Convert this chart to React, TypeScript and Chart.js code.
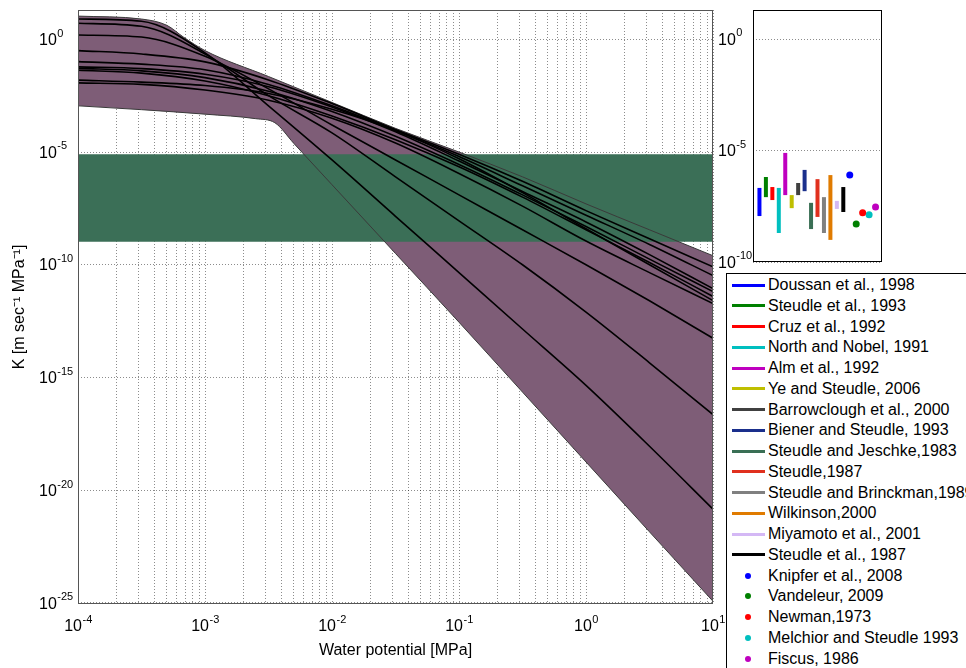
import React, { useEffect, useRef } from 'react';
import { Chart, registerables } from 'chart.js';
Chart.register(...registerables);

const FONT = '"Liberation Sans", Arial, Helvetica, sans-serif';
Chart.defaults.font.family = FONT;

const LOG_PSI = [-4, -3.5, -3, -2.5, -2, -1.5, -1, -0.5, 0, 0.5, 1];

const CURVE_1 = [0.9, 0.8, -0.6, -2.95, -5.35, -7.85, -10.35, -12.85, -15.35, -18.05, -20.84];
const CURVE_2 = [0.71, 0.58, -0.65, -2.5, -4.15, -6.1, -8.05, -10.0, -12.1, -14.35, -16.65];
const CURVE_3 = [0.19, 0.1, -0.75, -2.2, -3.8, -5.35, -6.9, -8.45, -10.0, -11.6, -13.26];
const CURVE_4 = [-0.5, -0.65, -1.0, -1.8, -2.85, -4.0, -5.1, -6.3, -7.6, -8.85, -10.09];
const CURVE_5 = [-0.99, -1.1, -1.35, -2.0, -2.95, -4.05, -5.2, -6.5, -7.8, -9.1, -10.48];
const CURVE_6 = [-1.22, -1.3, -1.55, -2.1, -3.0, -4.1, -5.4, -6.75, -8.1, -9.55, -11.06];
const CURVE_7 = [-1.29, -1.4, -1.7, -2.3, -3.2, -4.3, -5.55, -6.9, -8.3, -9.75, -11.19];
const CURVE_8 = [-1.37, -1.5, -1.85, -2.5, -3.4, -4.45, -5.65, -7.0, -8.45, -9.9, -11.41];
const CURVE_9 = [-1.81, -1.9, -2.05, -2.4, -3.1, -4.05, -5.3, -6.8, -8.4, -10.0, -11.59];
const CURVE_10 = [-1.93, -2.0, -2.25, -2.7, -3.5, -4.6, -5.95, -7.4, -8.95, -10.35, -11.72];
const CURVES = [CURVE_1, CURVE_2, CURVE_3, CURVE_4, CURVE_5, CURVE_6, CURVE_7, CURVE_8, CURVE_9, CURVE_10];

const ENV_UPPER_LOG_PSI = [-4, -3.5, -3.3, -3.17, -3.0, -2.5, -2, -1.5, -1, -0.5, 0, 0.5, 1];
const ENV_UPPER_LOG_K = [1.03, 0.9, 0.62, 0.1, -0.5, -1.65, -2.8, -3.95, -5.0, -6.1, -7.3, -8.45, -9.6];
const ENV_LOWER_LOG_PSI = [-4, -3.5, -3, -2.6, -2.45, -2.3, -2, -1.5, -1, -0.5, 0, 0.5, 1];
const ENV_LOWER_LOG_K = [-2.95, -3.12, -3.32, -3.52, -3.7, -4.62, -6.45, -9.5, -12.55, -15.65, -18.75, -21.85, -24.93];

const BAND_TOP = 8e-6;
const BAND_BOTTOM = 1.05e-9;
const PSI_MIN = 1e-4;
const PSI_MAX = 10;

const MAIN_X_MAJOR = [1e-4, 1e-3, 1e-2, 1e-1, 1, 10];
const MAIN_Y_TICKS = [1e-25, 1e-20, 1e-15, 1e-10, 1e-5, 1];
const SIDE_Y_TICKS = [1e-10, 1e-5, 1];

// ---------- Side panel (measured ranges and single values) ----------
const RANGE_LABELS = [
  'Doussan et al., 1998', 'Steudle et al., 1993', 'Cruz et al., 1992', 'North and Nobel, 1991',
  'Alm et al., 1992', 'Ye and Steudle, 2006', 'Barrowclough et al., 2000', 'Biener and Steudle, 1993',
  'Steudle and Jeschke,1983', 'Steudle,1987', 'Steudle and Brinckman,1989', 'Wilkinson,2000',
  'Miyamoto et al., 2001', 'Steudle et al., 1987',
];
const RANGE_HIGH = [2.1e-7, 6.5e-7, 2.3e-7, 2.1e-7, 7.8e-6, 1.0e-7, 3.5e-7, 1.35e-6, 4.5e-8, 5.2e-7, 8.1e-8, 7.9e-7, 5.5e-8, 2.3e-7];
const RANGE_LOW = [1.15e-8, 8.1e-8, 6.0e-8, 2.0e-9, 1.0e-7, 2.6e-8, 1.0e-7, 1.5e-7, 3.0e-9, 1.05e-8, 2.0e-9, 9.8e-10, 2.4e-8, 1.75e-8];
const RANGE_COLORS = ['#0000ff', '#008000', '#ff0000', '#00bfbf', '#bf00bf', '#bfbf00', '#404040', '#1a2f8c', '#3a6f55', '#e0301e', '#808080', '#e07b00', '#d4b8f5', '#000000'];

const POINT_LABELS = ['Knipfer et al., 2008', 'Vandeleur, 2009', 'Newman,1973', 'Melchior and Steudle 1993', 'Fiscus, 1986'];
const POINT_VALUES = [7.9e-7, 5.0e-9, 1.6e-8, 1.3e-8, 2.95e-8];
const POINT_COLORS = ['#0000ff', '#008000', '#ff0000', '#00bfbf', '#bf00bf'];

const PURPLE = '#7e5d77';
const GREEN = '#3b6f57';
const GRID = 'rgba(0,0,0,0.45)';

const exponentOf = (v: number) => String(Math.round(Math.log10(v)));

const xGrid = () => {
  const out: number[] = [];
  MAIN_X_MAJOR.forEach((m, i) => {
    out.push(m);
    if (i < MAIN_X_MAJOR.length - 1) for (let k = 2; k <= 9; k++) out.push(m * k);
  });
  return out;
};

const pts = (lx: number[], lk: number[]) => lx.map((v, i) => ({ x: 10 ** v, y: 10 ** lk[i] }));

const framePlugin = (color: string) => ({
  id: 'frame',
  afterDraw(chart: any) {
    const { ctx, chartArea: a } = chart;
    ctx.save();
    ctx.strokeStyle = color;
    ctx.lineWidth = 1;
    const l = Math.round(a.left) + 0.5, t = Math.round(a.top) + 0.5;
    const r = Math.round(a.right) - 0.5, b = Math.round(a.bottom) - 0.5;
    ctx.strokeRect(l, t, r - l, b - t);
    ctx.restore();
  },
});

const BASE_SIZE = 16;
const EXP_SIZE = 11;

// Draws "10" with a raised exponent, MATLAB style, at the scale's tick positions
const powerLabelPlugin = (specs: { scaleId: string; values: number[]; mode: 'x' | 'y'; anchor: number }[]) => ({
  id: 'powerLabels',
  afterDraw(chart: any) {
    const ctx = chart.ctx;
    ctx.save();
    ctx.fillStyle = '#000';
    ctx.textBaseline = 'alphabetic';
    ctx.textAlign = 'left';
    for (const spec of specs) {
      const scale = chart.scales[spec.scaleId];
      for (const v of spec.values) {
        const p = scale.getPixelForValue(v);
        const exp = exponentOf(v);
        ctx.font = `${BASE_SIZE}px ${FONT}`;
        const w1 = ctx.measureText('10').width;
        ctx.font = `${EXP_SIZE}px ${FONT}`;
        const w2 = ctx.measureText(exp).width;
        let x0: number, base: number;
        if (spec.mode === 'x') {
          x0 = p - (w1 + w2) / 2;
          base = spec.anchor;
        } else {
          x0 = spec.anchor;
          base = p + 5.7;
        }
        ctx.font = `${BASE_SIZE}px ${FONT}`;
        ctx.fillText('10', x0, base);
        ctx.font = `${EXP_SIZE}px ${FONT}`;
        ctx.fillText(exp, x0 + w1 + 0.5, base - 8.3);
      }
    }
    ctx.restore();
  },
});

const tickFont = { size: 16, family: FONT };

export default function App() {
  const mainRef = useRef<HTMLCanvasElement>(null);
  const sideRef = useRef<HTMLCanvasElement>(null);

  useEffect(() => {
    const upper = pts(ENV_UPPER_LOG_PSI, ENV_UPPER_LOG_K);
    const lower = pts(ENV_LOWER_LOG_PSI, ENV_LOWER_LOG_K);
    const none = 'rgba(0,0,0,0)';
    const base = { pointRadius: 0, cubicInterpolationMode: 'monotone' as const };

    const main = new Chart(mainRef.current!, {
      type: 'line',
      data: {
        datasets: [
          { ...base, label: 'envelope', data: upper, fill: '+1', backgroundColor: PURPLE, borderColor: none, borderWidth: 0, order: 3 },
          { ...base, label: 'envelope-low', data: lower, fill: false, borderColor: none, borderWidth: 0, order: 3 },
          { pointRadius: 0, label: 'measured range', data: [{ x: PSI_MIN, y: BAND_TOP }, { x: PSI_MAX, y: BAND_TOP }], fill: '+1', backgroundColor: GREEN, borderColor: none, borderWidth: 0, order: 2 },
          { pointRadius: 0, label: 'measured range low', data: [{ x: PSI_MIN, y: BAND_BOTTOM }, { x: PSI_MAX, y: BAND_BOTTOM }], fill: false, borderColor: none, borderWidth: 0, order: 2 },
          { ...base, label: 'envelope edge', data: upper, fill: false, borderColor: '#3a3a3a', borderWidth: 1, order: 1 },
          { ...base, label: 'envelope edge low', data: lower, fill: false, borderColor: '#3a3a3a', borderWidth: 1, order: 1 },
          ...CURVES.map((c, i) => ({ ...base, label: 'curve ' + (i + 1), data: pts(LOG_PSI, c), fill: false, borderColor: '#000', borderWidth: 1.6, order: 0 })),
        ] as any,
      },
      options: {
        responsive: false,
        animation: false,
        devicePixelRatio: 1,
        events: [],
        layout: { autoPadding: false, padding: { left: 0, right: 17, top: 10, bottom: 0 } },
        plugins: { legend: { display: false }, tooltip: { enabled: false } },
        scales: {
          x: {
            type: 'logarithmic', min: PSI_MIN, max: PSI_MAX,
            afterBuildTicks: (s: any) => { s.ticks = xGrid().map((v) => ({ value: v })); },
            afterFit: (s: any) => { s.height = 64; },
            grid: { color: GRID, lineWidth: 1, drawTicks: false },
            border: { display: false, dash: [1, 2] },
            ticks: { display: false, autoSkip: false },
            title: { display: true, text: 'Water potential [MPa]', color: '#000', font: tickFont, padding: { top: 0, bottom: 8 } },
          },
          y: {
            type: 'logarithmic', min: 10 ** -25.05, max: 20, position: 'left', weight: 0,
            afterBuildTicks: (s: any) => { s.ticks = MAIN_Y_TICKS.map((v) => ({ value: v })); },
            afterFit: (s: any) => { s.width = 39; },
            grid: { color: GRID, lineWidth: 1, drawTicks: false },
            border: { display: false, dash: [1, 2] },
            ticks: { display: false, autoSkip: false },
          },
          yTitle: {
            axis: 'y', type: 'linear', position: 'left', weight: 1,
            afterFit: (s: any) => { s.width = 39; },
            grid: { display: false }, border: { display: false }, ticks: { display: false },
            title: { display: true, text: 'K [m sec⁻¹ MPa⁻¹]', color: '#000', font: tickFont, padding: { top: 10, bottom: 0 } },
          },
        } as any,
      },
      plugins: [
        framePlugin('#555'),
        powerLabelPlugin([
          { scaleId: 'x', values: MAIN_X_MAJOR, mode: 'x', anchor: 631 },
          { scaleId: 'y', values: MAIN_Y_TICKS, mode: 'y', anchor: 39 },
        ]),
      ],
    });

    const side = new Chart(sideRef.current!, {
      type: 'scatter',
      data: {
        datasets: [
          ...RANGE_LABELS.map((label, i) => ({
            label, data: [{ x: i + 1, y: RANGE_LOW[i] }, { x: i + 1, y: RANGE_HIGH[i] }],
            showLine: true, borderColor: RANGE_COLORS[i], borderWidth: 4, borderCapStyle: 'butt', pointRadius: 0,
          })),
          ...POINT_LABELS.map((label, i) => ({
            label, data: [{ x: RANGE_LABELS.length + i + 1, y: POINT_VALUES[i] }],
            showLine: false, pointRadius: 3.5, backgroundColor: POINT_COLORS[i], borderColor: POINT_COLORS[i], borderWidth: 0,
          })),
        ] as any,
      },
      options: {
        responsive: false,
        animation: false,
        devicePixelRatio: 1,
        events: [],
        layout: { autoPadding: false, padding: { left: 5, right: 6, top: 10, bottom: 18 } },
        plugins: { legend: { display: false }, tooltip: { enabled: false } },
        scales: {
          x: { type: 'linear', min: 0, max: RANGE_LABELS.length + POINT_LABELS.length + 1, display: false },
          y: {
            type: 'logarithmic', min: 1e-10, max: 20,
            afterBuildTicks: (s: any) => { s.ticks = SIDE_Y_TICKS.map((v) => ({ value: v })); },
            afterFit: (s: any) => { s.width = 35; },
            grid: { color: GRID, lineWidth: 1, drawTicks: false },
            border: { display: false, dash: [1, 2] },
            ticks: { display: false, autoSkip: false },
          },
        } as any,
      },
      plugins: [
        framePlugin('#000'),
        powerLabelPlugin([{ scaleId: 'y', values: SIDE_Y_TICKS, mode: 'y', anchor: 5 }]),
      ],
    });

    return () => { main.destroy(); side.destroy(); };
  }, []);

  const rowY = (i: number) => 11 + i * 20.75;

  return (
    <div style={{ position: 'absolute', left: 0, top: 0, width: 966, height: 668, overflow: 'hidden', background: '#fff', fontFamily: FONT }}>
      <canvas ref={mainRef} width={730} height={668} style={{ position: 'absolute', left: 0, top: 0 }} />
      <canvas ref={sideRef} width={175} height={280} style={{ position: 'absolute', left: 713, top: 0 }} />
      <div style={{ position: 'absolute', left: 726, top: 273, width: 260, height: 420, border: '1px solid #000', background: '#fff', boxSizing: 'border-box' }}>
        {RANGE_LABELS.map((label, i) => (
          <div key={label}>
            <div style={{ position: 'absolute', left: 5, top: rowY(i) - 1.5, width: 33, height: 3, background: RANGE_COLORS[i] }} />
            <div style={{ position: 'absolute', left: 41, top: rowY(i) - 10, height: 20, lineHeight: '20px', fontSize: 16, whiteSpace: 'nowrap', color: '#000' }}>{label}</div>
          </div>
        ))}
        {POINT_LABELS.map((label, j) => {
          const i = RANGE_LABELS.length + j;
          return (
            <div key={label}>
              <div style={{ position: 'absolute', left: 18, top: rowY(i) - 3, width: 6, height: 6, borderRadius: 3, background: POINT_COLORS[j] }} />
              <div style={{ position: 'absolute', left: 41, top: rowY(i) - 10, height: 20, lineHeight: '20px', fontSize: 16, whiteSpace: 'nowrap', color: '#000' }}>{label}</div>
            </div>
          );
        })}
      </div>
    </div>
  );
}
